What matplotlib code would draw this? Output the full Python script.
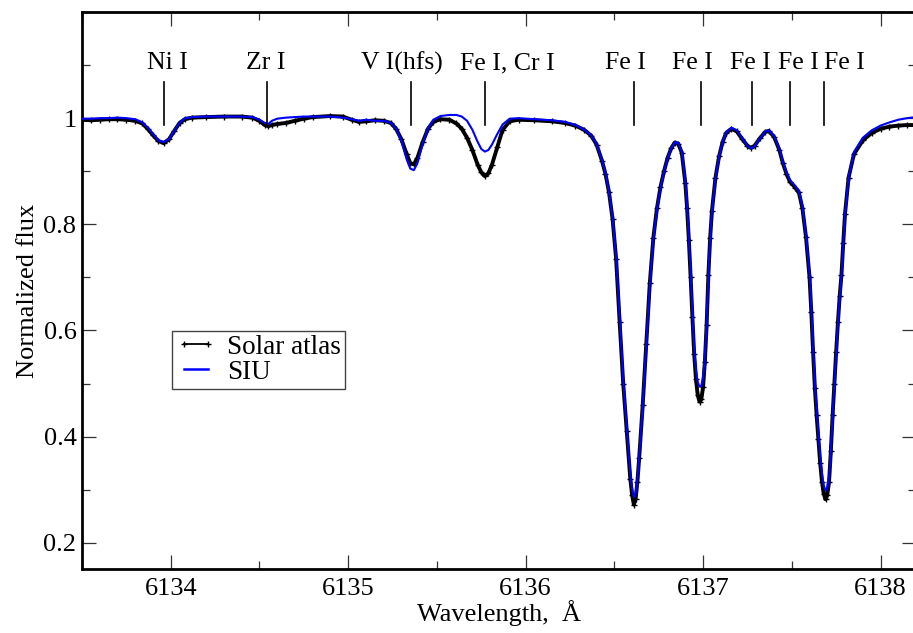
import matplotlib
matplotlib.use("Agg")
import matplotlib.pyplot as plt
from matplotlib.lines import Line2D
from matplotlib.ticker import MultipleLocator, FuncFormatter

plt.rcParams['font.family'] = ['Liberation Serif', 'DejaVu Serif']

# ---------------- data ----------------
wavelength = [
    6133.50, 6133.55, 6133.60, 6133.65, 6133.70, 6133.75, 6133.80, 6133.84, 6133.87, 6133.90,
    6133.93, 6133.96, 6133.99, 6134.02, 6134.05, 6134.08, 6134.12, 6134.20, 6134.30, 6134.40,
    6134.46, 6134.50, 6134.53, 6134.55, 6134.57, 6134.60, 6134.65, 6134.70, 6134.75, 6134.80,
    6134.90, 6134.97, 6135.02, 6135.06, 6135.10, 6135.15, 6135.20, 6135.24, 6135.27, 6135.30,
    6135.33, 6135.35, 6135.37, 6135.39, 6135.42, 6135.45, 6135.48, 6135.52, 6135.57, 6135.61,
    6135.64, 6135.67, 6135.70, 6135.73, 6135.75, 6135.77, 6135.79, 6135.81, 6135.84, 6135.87,
    6135.91, 6135.96, 6136.05, 6136.15, 6136.22, 6136.28, 6136.33, 6136.37, 6136.40, 6136.43,
    6136.45, 6136.47, 6136.49, 6136.51, 6136.53, 6136.55, 6136.57, 6136.59, 6136.60, 6136.61,
    6136.62, 6136.63, 6136.64, 6136.66, 6136.68, 6136.70, 6136.72, 6136.74, 6136.76, 6136.78,
    6136.80, 6136.82, 6136.84, 6136.86, 6136.88, 6136.90, 6136.91, 6136.92, 6136.93, 6136.94,
    6136.95, 6136.96, 6136.97, 6136.98, 6136.99, 6137.00, 6137.01, 6137.02, 6137.03, 6137.04,
    6137.05, 6137.07, 6137.09, 6137.11, 6137.13, 6137.16, 6137.19, 6137.22, 6137.25, 6137.27,
    6137.29, 6137.32, 6137.35, 6137.37, 6137.40, 6137.43, 6137.45, 6137.47, 6137.49, 6137.52,
    6137.54, 6137.56, 6137.58, 6137.60, 6137.61, 6137.62, 6137.63, 6137.64, 6137.65, 6137.66,
    6137.67, 6137.68, 6137.69, 6137.70, 6137.71, 6137.72, 6137.73, 6137.74, 6137.75, 6137.76,
    6137.77, 6137.78, 6137.79, 6137.80, 6137.82, 6137.85, 6137.90, 6137.95, 6138.00, 6138.05,
    6138.10, 6138.15, 6138.20,
]

solar_atlas = [
    0.997, 0.996, 0.997, 0.998, 0.998, 0.997, 0.995, 0.990, 0.980, 0.968,
    0.957, 0.953, 0.960, 0.976, 0.991, 0.998, 1.001, 1.002, 1.003, 1.003,
    1.001, 0.995, 0.987, 0.985, 0.987, 0.989, 0.991, 0.995, 0.999, 1.002,
    1.004, 1.003, 0.997, 0.993, 0.994, 0.996, 0.995, 0.991, 0.980, 0.960,
    0.932, 0.915, 0.913, 0.925, 0.955, 0.980, 0.993, 0.998, 0.997, 0.990,
    0.980, 0.963, 0.940, 0.912, 0.898, 0.891, 0.896, 0.912, 0.945, 0.978,
    0.994, 0.997, 0.996, 0.994, 0.991, 0.986, 0.978, 0.967, 0.950, 0.920,
    0.895, 0.860, 0.810, 0.735, 0.615, 0.500, 0.410, 0.320, 0.290, 0.272,
    0.283, 0.315, 0.360, 0.460, 0.575, 0.690, 0.775, 0.830, 0.870, 0.900,
    0.925, 0.943, 0.954, 0.952, 0.935, 0.878, 0.830, 0.770, 0.700, 0.625,
    0.555, 0.508, 0.478, 0.466, 0.470, 0.493, 0.540, 0.610, 0.705, 0.775,
    0.825, 0.888, 0.928, 0.955, 0.972, 0.980, 0.975, 0.961, 0.948, 0.944,
    0.948, 0.962, 0.974, 0.976, 0.965, 0.940, 0.915, 0.895, 0.880, 0.869,
    0.860, 0.830, 0.776, 0.700, 0.635, 0.560, 0.492, 0.440, 0.395, 0.350,
    0.315, 0.292, 0.282, 0.290, 0.315, 0.372, 0.440, 0.500, 0.560, 0.615,
    0.665, 0.705, 0.765, 0.820, 0.888, 0.932, 0.958, 0.972, 0.980, 0.984,
    0.986, 0.987, 0.987,
]

siu = [
    0.999, 0.999, 1.000, 1.000, 1.001, 1.000, 0.998, 0.992, 0.982, 0.970,
    0.958, 0.955, 0.961, 0.977, 0.992, 1.000, 1.002, 1.003, 1.003, 1.003,
    1.002, 0.997, 0.991, 0.989, 0.995, 0.999, 1.001, 1.002, 1.003, 1.003,
    1.003, 1.001, 0.998, 0.995, 0.997, 0.995, 0.995, 0.991, 0.980, 0.956,
    0.922, 0.905, 0.902, 0.915, 0.952, 0.982, 0.997, 1.004, 1.006, 1.006,
    1.003, 0.995, 0.978, 0.955, 0.942, 0.937, 0.940, 0.950, 0.970, 0.988,
    0.999, 1.000, 0.998, 0.996, 0.993, 0.987, 0.978, 0.967, 0.950, 0.920,
    0.895, 0.860, 0.810, 0.738, 0.620, 0.505, 0.415, 0.330, 0.302, 0.286,
    0.294, 0.322, 0.365, 0.462, 0.575, 0.690, 0.775, 0.830, 0.870, 0.900,
    0.925, 0.944, 0.955, 0.953, 0.936, 0.880, 0.832, 0.772, 0.705, 0.632,
    0.565, 0.525, 0.503, 0.494, 0.496, 0.512, 0.552, 0.618, 0.708, 0.777,
    0.826, 0.889, 0.929, 0.956, 0.974, 0.982, 0.977, 0.962, 0.947, 0.943,
    0.947, 0.962, 0.975, 0.977, 0.966, 0.941, 0.917, 0.897, 0.883, 0.872,
    0.862, 0.832, 0.778, 0.705, 0.640, 0.565, 0.500, 0.450, 0.405, 0.362,
    0.330, 0.308, 0.298, 0.305, 0.325, 0.378, 0.443, 0.502, 0.560, 0.615,
    0.665, 0.705, 0.765, 0.820, 0.890, 0.936, 0.963, 0.977, 0.986, 0.992,
    0.997, 1.000, 1.002,
]

line_positions = [6133.96, 6134.54, 6135.354, 6135.77, 6136.611, 6136.989, 6137.276, 6137.49, 6137.683]
label_texts = ["Ni I", "Zr I", "V I(hfs)", "Fe I, Cr I", "Fe I", "Fe I", "Fe I", "Fe I", "Fe I"]
label_x = [6133.983, 6134.536, 6135.30, 6135.895, 6136.56, 6136.94, 6137.266, 6137.54, 6137.796]

x_ticks = [6134, 6135, 6136, 6137, 6138]
y_ticks = [0.2, 0.4, 0.6, 0.8, 1.0]

# ---------------- figure ----------------
W, H = 913, 633
fig = plt.figure(figsize=(W / 100, H / 100), dpi=100)
ax = fig.add_axes([82 / W, (H - 569.3) / H, 834 / W, 557.3 / H])

ax.plot(wavelength, solar_atlas, color='black', lw=2.8, marker='+', ms=4, mew=1.0, zorder=2)
ax.plot(wavelength, siu, color='#0000ff', lw=1.5, zorder=3)

for xp in line_positions:
    ax.plot([xp, xp], [0.987, 1.069], color='black', lw=1.2, zorder=4)
for xt, t in zip(label_x, label_texts):
    ax.text(xt, 1.092, t, ha='center', va='baseline', fontsize=18.5)

ax.set_xlim(6133.5, 6138.2)
ax.set_ylim(0.15, 1.2)
ax.set_xticks(x_ticks)
ax.set_yticks(y_ticks)
ax.xaxis.set_minor_locator(MultipleLocator(0.5))
ax.yaxis.set_minor_locator(MultipleLocator(0.1))
ax.yaxis.set_major_formatter(FuncFormatter(lambda v, p: '%g' % v))
ax.tick_params(which='both', direction='in', top=True, right=True, colors='#333333',
               labelcolor='black', labelsize=19, width=0.9)
ax.tick_params(which='major', length=10)
ax.tick_params(which='minor', length=5.5)
ax.tick_params(axis='x', pad=6)
ax.tick_params(axis='y', pad=4)
for s in ax.spines.values():
    s.set_linewidth(2.0)

ax.set_xlabel('Wavelength,  Å', fontsize=19, labelpad=0)
ax.set_ylabel('Normalized flux', fontsize=19, labelpad=3)

handles = [
    Line2D([], [], color='black', lw=1.3, marker='+', ms=4, mew=1.0),
    Line2D([], [], color='#0000ff', lw=1.8),
]
leg = ax.legend(handles, ['Solar atlas', 'SIU'], loc='upper left',
                bbox_to_anchor=((171.7 - 82) / 834, (569.3 - 330.7) / 557.3),
                borderaxespad=0, fontsize=19.5, numpoints=2, fancybox=False,
                framealpha=1, edgecolor='#444444', handlelength=1.5,
                handletextpad=0.4, labelspacing=0.0, borderpad=0.15)
leg.get_frame().set_linewidth(1.0)

fig.savefig('out.png', dpi=100)
